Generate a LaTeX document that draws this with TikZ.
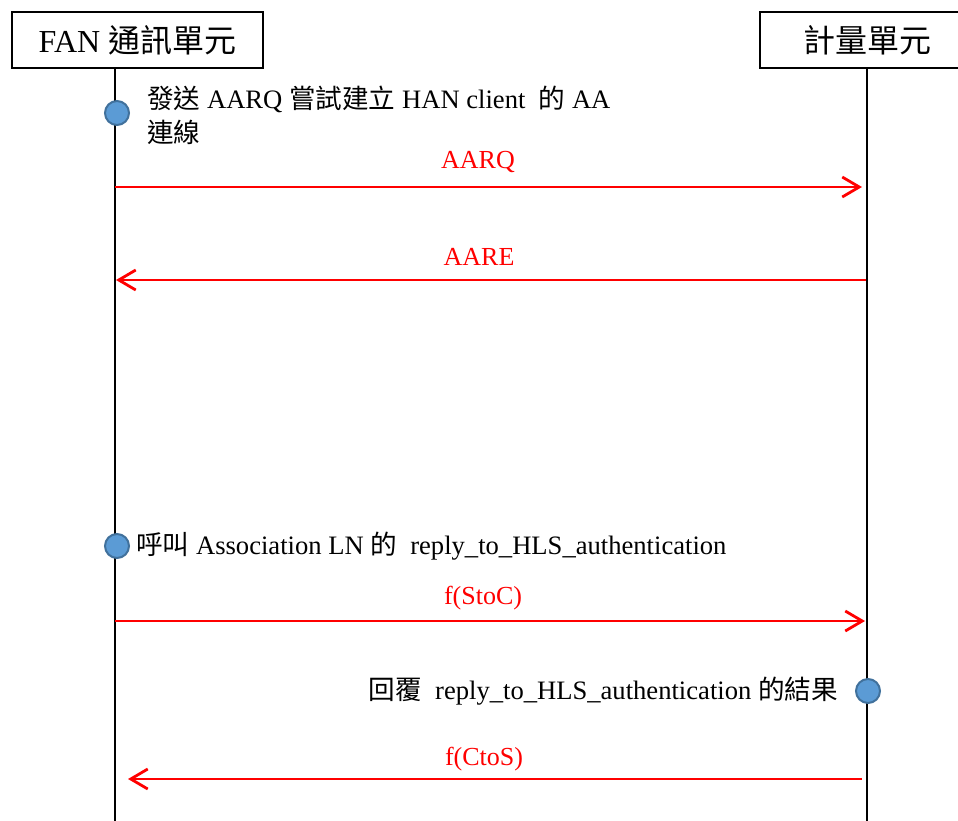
\documentclass[tikz,border=0pt]{standalone}
\usepackage{fontspec}
\setmainfont{Liberation Serif}
\newfontfamily\cjk{Noto Sans CJK TC}
\usetikzlibrary{arrows.meta}
\definecolor{dotfill}{HTML}{5B9BD5}
\definecolor{dotline}{HTML}{41719C}
\begin{document}
\begin{tikzpicture}[x=1pt,y=-1pt,
 actor/.style={draw=black,line width=1.5pt,fill=white,minimum height=56pt,inner sep=0pt,font=\fontsize{32}{36}\selectfont},
 life/.style={line width=2.8pt},
 msg/.style={draw=red,line width=2.8pt,-{Straight Barb[length=17pt,width=20pt,line width=2.8pt]}},
 msglabel/.style={text=red,font=\fontsize{26}{30}\selectfont,inner sep=0pt},
 note/.style={font=\fontsize{26.6}{34}\selectfont,inner sep=0pt},
 dot/.style={circle,fill=dotfill,draw=dotline,line width=2pt,minimum size=24pt,inner sep=0pt}]
\useasboundingbox (0,0) rectangle (958,820);
\clip (0,0) rectangle (958,820);
% actors
\node[actor,minimum width=251pt] (fan) at (137.5,40) {FAN {\cjk 通訊單元}};
\node[actor,minimum width=214pt] (meter) at (867,40) {{\cjk 計量單元}};
% lifelines
\coordinate (fanEnd) at (115,822);
\coordinate (meterEnd) at (867,822);
\draw[life] (fanEnd |- fan.south) -- (fanEnd);
\draw[life] (meter.south) -- (meterEnd);
% note 1
\node[dot] (d1) at (117,113) {};
\node[note,anchor=west,align=left] (t1) at (147,115) {{\cjk 發送} AARQ {\cjk 嘗試建立} HAN client\ \ {\cjk 的} AA\\{\cjk 連線}};
% AARQ
\coordinate (m1s) at (115,187);
\coordinate (m1e) at (862,187);
\draw[msg] (m1s) -- (m1e);
\node[msglabel] (l1) at (478,162) {AARQ};
% AARE
\coordinate (m2s) at (866,280);
\coordinate (m2e) at (116,280);
\draw[msg] (m2s) -- (m2e);
\node[msglabel] (l2) at (479,257) {AARE};
% note 2
\node[dot] (d2) at (117,546) {};
\node[note,anchor=west] (t2) at (136,546) {{\cjk 呼叫} Association LN {\cjk 的}\ \ reply\_to\_HLS\_authentication};
% f(StoC)
\coordinate (m3s) at (115,621);
\coordinate (m3e) at (865,621);
\draw[msg] (m3s) -- (m3e);
\node[msglabel] (l3) at (483,598) {f(StoC)};
% note 3
\node[dot] (d3) at (868,691) {};
\node[note,anchor=east] (t3) at (838,691) {{\cjk 回覆}\ \ reply\_to\_HLS\_authentication {\cjk 的結果}};
% f(CtoS)
\coordinate (m4s) at (862,779);
\coordinate (m4e) at (128,779);
\draw[msg] (m4s) -- (m4e);
\node[msglabel] (l4) at (484,759) {f(CtoS)};
\end{tikzpicture}
\end{document}
